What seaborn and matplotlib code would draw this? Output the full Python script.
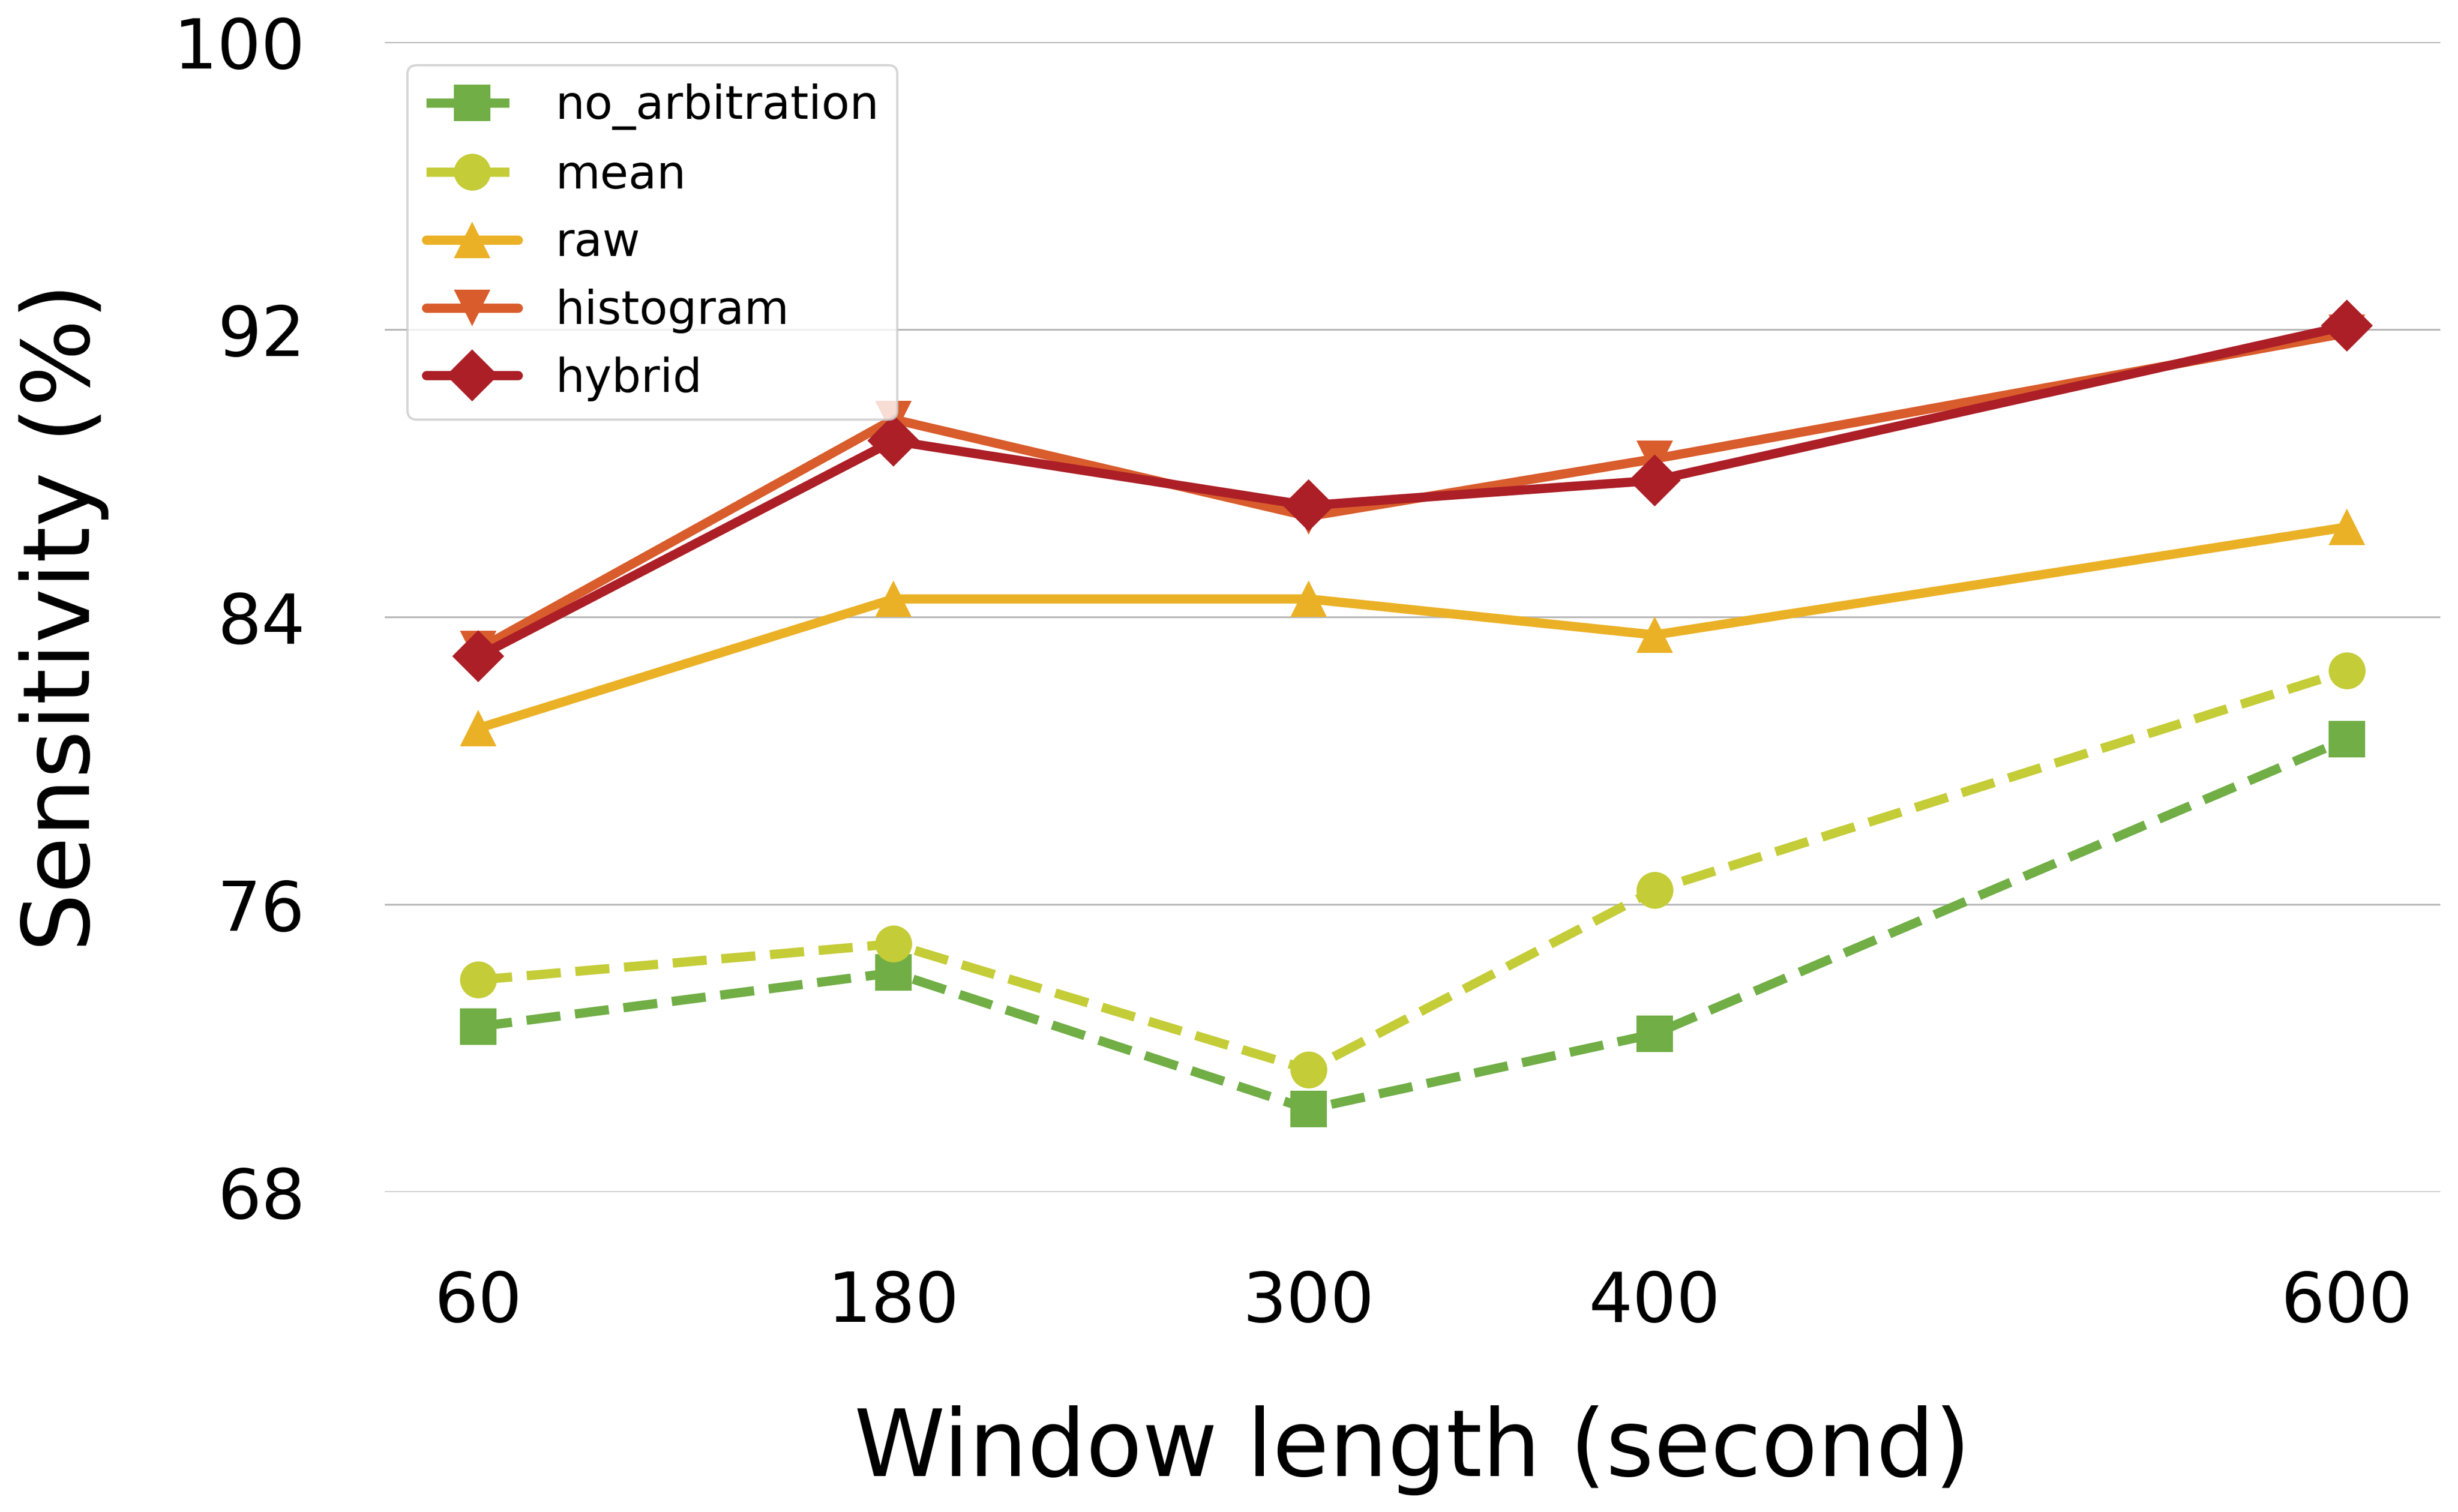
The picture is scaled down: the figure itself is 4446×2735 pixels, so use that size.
import matplotlib
matplotlib.use("Agg")
import matplotlib.pyplot as plt
import seaborn as sns

# window lengths (seconds) and sensitivity (%) per arbitration method
windows = [60, 180, 300, 400, 600]
no_arbitration = [72.6, 74.1, 70.3, 72.4, 80.6]
mean = [73.9, 74.9, 71.4, 76.4, 82.5]
raw = [80.9, 84.5, 84.5, 83.5, 86.5]
histogram = [83.1, 89.5, 86.8, 88.4, 91.9]
hybrid = [82.9, 88.9, 87.1, 87.8, 92.1]

names = ["no_arbitration", "mean", "raw", "histogram", "hybrid"]
series = [no_arbitration, mean, raw, histogram, hybrid]
colors = ["#71ae46", "#c4cc37", "#ebb126", "#d95c2c", "#ac1f27"]
markers = ["s", "o", "^", "v", "D"]
styles = ["--", "--", "-", "-", "-"]

y_ticks = [68, 76, 84, 92, 100]

sns.set_style("whitegrid")
plt.rcParams["font.family"] = ["DejaVu Sans"]
plt.rcParams["text.color"] = "black"
plt.rcParams["axes.labelcolor"] = "black"
plt.rcParams["xtick.color"] = "black"
plt.rcParams["ytick.color"] = "black"

fig = plt.figure(figsize=(14.82, 9.117), dpi=300)
ax = fig.add_axes([0.1565, 0.2117, 0.8363, 0.7605])

for name, vals, c, m, ls in zip(names, series, colors, markers, styles):
    sns.lineplot(x=windows, y=vals, ax=ax, color=c, marker=m, linestyle=ls,
                 lw=4, markersize=16, markeredgewidth=0, label=name)

ax.set_ylim(68, 100)
ax.set_yticks(y_ticks)
ax.set_xticks(windows)
ax.grid(axis="x", visible=False)
ax.grid(axis="y", color="#b8b8b8", lw=0.8)
for s in ax.spines.values():
    s.set_visible(False)

ax.tick_params(axis="y", length=3.5, width=0.8, pad=31, labelsize=30)
ax.tick_params(axis="x", length=3.5, width=0.8, pad=30, labelsize=30)

ax.set_xlabel("Window length (second)", fontsize=40, labelpad=30)
ax.set_ylabel("Sensitivity (%)", fontsize=40, labelpad=28)

ax.legend(loc="upper left", fontsize=20, labelspacing=0.5, frameon=True,
          edgecolor="0.8", framealpha=0.8)

fig.savefig("out.png", dpi=300)
